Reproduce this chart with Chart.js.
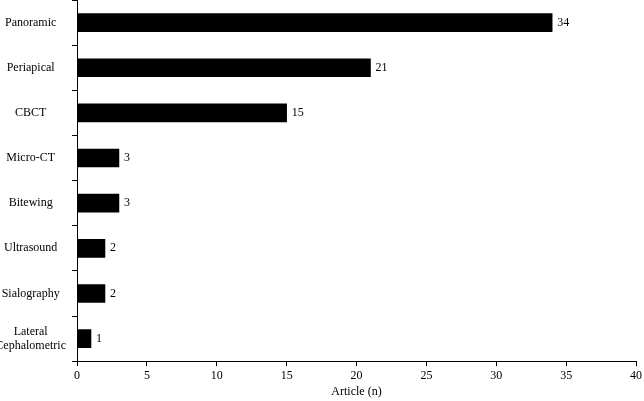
<!DOCTYPE html>
<html>
<head>
<script src="https://cdn.jsdelivr.net/npm/chart.js@4"></script>
<style>body{margin:0;background:#fff}#wrap{width:644px;height:401px}</style>
</head>
<body>
<div id="wrap"><canvas id="c"></canvas></div>
<script>
let categories = ['Panoramic', 'Periapical', 'CBCT', 'Micro-CT', 'Bitewing', 'Ultrasound', 'Sialography', ['Lateral', 'Cephalometric']]
let articles = [34, 21, 15, 3, 3, 2, 2, 1]
let xTicks = [0, 5, 10, 15, 20, 25, 30, 35, 40]

// writes the value just right of each bar
const valueLabels = {
    id: 'valueLabels',
    afterDatasetsDraw(chart) {
        let ctx = chart.ctx
        ctx.save()
        ctx.font = '12px "Liberation Serif"'
        ctx.fillStyle = '#000'
        ctx.textBaseline = 'middle'
        chart.getDatasetMeta(0).data.forEach((bar, i) => {
            ctx.fillText(articles[i], bar.x + 5, bar.y)
        })
        ctx.restore()
    }
}

new Chart(document.getElementById('c'), {
    type: 'bar',
    data: {
        labels: categories,
        datasets: [{ data: articles, backgroundColor: '#000', barThickness: 18 }]
    },
    options: {
        indexAxis: 'y',
        responsive: true,
        maintainAspectRatio: false,
        animation: false,
        layout: { padding: { top: 0, right: 4, left: 0, bottom: 2 } },
        plugins: { legend: { display: false }, tooltip: { enabled: false } },
        scales: {
            x: {
                min: 0, max: 40,
                afterBuildTicks: s => { s.ticks = xTicks.map(v => ({ value: v })) },
                grid: { drawOnChartArea: false, color: '#000', tickLength: 5 },
                border: { color: '#000' },
                ticks: { color: '#000', font: { family: 'Liberation Serif', size: 12 }, padding: 2 },
                title: { display: true, text: 'Article (n)', color: '#000', font: { family: 'Liberation Serif', size: 12 }, padding: 0 }
            },
            y: {
                grid: { drawOnChartArea: false, color: '#000', tickLength: 5, offset: true },
                border: { color: '#000' },
                ticks: { color: '#000', font: { family: 'Liberation Serif', size: 12 }, padding: 6, crossAlign: 'center' },
                afterFit: s => { s.width = 77 }
            }
        }
    },
    plugins: [valueLabels, {
        id: 'trimTop',
        afterLayout(chart) {
            // pull the plot area up to the top edge like the reference
            let a = chart.chartArea
            let y = chart.scales.y
            if (a.top > 0) {
                y.top = 0; a.top = 0
                y.height = y.bottom - y.top
                y.configure(); y.buildTicks(); y.afterBuildTicks && 0
                y.updateTicks && 0
                chart.scales.x.top = a.bottom
            }
        }
    }]
})
</script>
</body>
</html>
